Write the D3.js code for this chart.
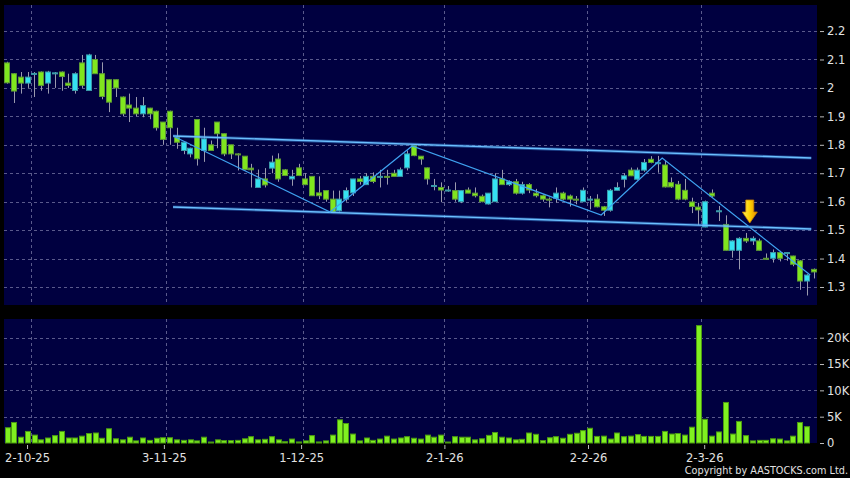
<!DOCTYPE html>
<html><head><meta charset="utf-8">
<script src="https://cdn.jsdelivr.net/npm/d3@7"></script>
<style>html,body{margin:0;padding:0;background:#000;}svg{display:block;}</style>
</head><body><svg id="c" width="850" height="478"></svg>
<script>
// ---- data (candle index 0..119) ----
const openP = [2.088,2.05,2.038,2.017,2.049,2.056,2.017,2.05,2.056,2.017,1.991,2.088,1.991,2.1,2.05,2.029,2.029,1.968,1.94,1.929,
1.909,1.929,1.918,1.88,1.918,1.827,1.78,1.768,1.889,1.78,1.8,1.88,1.839,1.8,1.768,1.76,1.718,1.65,1.68,1.718,
1.75,1.712,1.68,1.719,1.68,1.689,1.631,1.639,1.609,1.568,1.609,1.631,1.68,1.66,1.689,1.689,1.689,1.7,1.689,1.719,
1.797,1.76,1.719,1.657,1.65,1.641,1.639,1.6,1.641,1.63,1.619,1.592,1.6,1.68,1.66,1.67,1.63,1.66,1.63,1.621,
1.609,1.612,1.63,1.62,1.609,1.6,1.609,1.609,1.582,1.57,1.64,1.679,1.711,1.679,1.711,1.749,1.737,1.729,1.667,1.661,
1.64,1.599,1.581,1.511,1.63,1.568,1.52,1.429,1.429,1.471,1.462,1.462,1.401,1.401,1.421,1.421,1.409,1.392,1.321,1.362];
const highP = [2.092,2.052,2.056,2.056,2.056,2.058,2.06,2.056,2.058,2.05,2.055,2.116,2.12,2.116,2.09,2.03,2.03,1.97,1.98,1.968,
1.968,1.93,1.92,1.88,1.92,1.86,1.81,1.79,1.89,1.86,1.815,1.88,1.84,1.8,1.77,1.76,1.733,1.713,1.718,1.762,
1.77,1.715,1.712,1.733,1.7,1.69,1.689,1.64,1.639,1.639,1.65,1.68,1.69,1.7,1.703,1.712,1.712,1.712,1.72,1.78,
1.8,1.76,1.72,1.68,1.668,1.655,1.668,1.64,1.65,1.65,1.625,1.63,1.7,1.712,1.675,1.68,1.67,1.665,1.645,1.625,
1.615,1.65,1.635,1.625,1.62,1.65,1.62,1.626,1.585,1.645,1.668,1.7,1.72,1.72,1.75,1.76,1.761,1.743,1.685,1.673,
1.68,1.614,1.596,1.604,1.643,1.585,1.552,1.465,1.475,1.49,1.478,1.47,1.418,1.432,1.427,1.421,1.41,1.395,1.345,1.365];
const lowP = [2.015,1.947,1.98,2.0,1.968,1.99,1.98,2.0,1.99,2.0,1.98,2.0,1.99,2.05,1.96,1.915,1.968,1.9,1.88,1.9,
1.897,1.89,1.85,1.8,1.8,1.786,1.767,1.756,1.727,1.74,1.78,1.788,1.76,1.75,1.71,1.71,1.65,1.65,1.65,1.7,
1.67,1.69,1.656,1.69,1.658,1.62,1.609,1.6,1.56,1.565,1.6,1.62,1.66,1.66,1.665,1.65,1.66,1.689,1.689,1.71,
1.76,1.73,1.66,1.64,1.598,1.635,1.6,1.595,1.63,1.615,1.598,1.59,1.6,1.66,1.655,1.625,1.625,1.63,1.615,1.6,
1.58,1.597,1.605,1.583,1.591,1.6,1.573,1.58,1.55,1.565,1.64,1.65,1.69,1.675,1.705,1.735,1.702,1.65,1.648,1.605,
1.605,1.56,1.518,1.51,1.615,1.532,1.428,1.403,1.362,1.455,1.448,1.428,1.398,1.386,1.39,1.392,1.373,1.29,1.27,1.33];
const closeP = [2.018,1.989,2.017,2.038,2.051,2.009,2.056,2.053,2.04,2.009,2.05,2.009,2.116,2.05,1.97,1.95,2.0,1.909,1.929,1.909,
1.938,1.909,1.86,1.819,1.86,1.809,1.809,1.788,1.751,1.821,1.78,1.839,1.768,1.768,1.766,1.713,1.712,1.68,1.659,1.739,
1.68,1.692,1.689,1.692,1.66,1.621,1.621,1.609,1.562,1.609,1.639,1.68,1.671,1.689,1.671,1.689,1.687,1.689,1.712,1.768,
1.762,1.75,1.68,1.657,1.641,1.641,1.609,1.639,1.63,1.621,1.6,1.63,1.68,1.66,1.67,1.63,1.66,1.641,1.621,1.609,
1.607,1.63,1.609,1.609,1.608,1.64,1.609,1.582,1.57,1.64,1.65,1.691,1.691,1.711,1.738,1.738,1.737,1.652,1.652,1.609,
1.609,1.583,1.571,1.6,1.62,1.568,1.429,1.462,1.471,1.462,1.471,1.429,1.4,1.421,1.401,1.421,1.38,1.321,1.342,1.353];
const volumeK = [2.9,3.9,1.1,2.2,1.5,0.6,0.95,1.4,2.2,0.95,0.95,1.3,1.8,1.9,0.9,2.7,0.8,0.6,1.1,0.4,
0.95,0.5,0.9,1.0,1.0,0.6,0.5,0.6,0.4,1.1,0.1,0.6,0.45,0.45,0.5,0.8,1.2,0.6,0.7,1.2,
0.6,0.25,0.75,0.2,0.4,1.4,0.2,0.4,1.5,4.4,3.7,1.7,0.4,0.95,0.5,0.75,1.3,0.75,0.95,1.2,
0.9,0.75,1.5,1.1,1.5,0.1,1.2,1.1,1.1,0.6,0.8,1.45,2.0,1.1,0.95,0.6,0.7,1.9,1.65,0.45,
1.0,1.2,0.9,1.65,1.85,2.35,2.8,1.25,1.3,0.75,1.9,1.2,1.3,1.6,1.25,1.25,1.25,2.2,1.7,1.8,
1.5,3.0,22.3,4.5,1.3,2.1,7.7,1.7,4.1,1.4,0.4,0.5,0.5,0.8,0.75,0.4,1.3,3.9,3.1,0];
const dateLabels = ["2-10-25","3-11-25","1-12-25","2-1-26","2-2-26","2-3-26"];
const dateTickIndex = [2.9,23.1,43.35,64.5,85.7,102.85];
const dateGridIndex = [3.5,23.4,43.6,64.5,85.6,102.4];
const priceTicks = [1.3,1.4,1.5,1.6,1.7,1.8,1.9,2.0,2.1,2.2];
const volumeTicks = [0,5,10,15,20];
const upperChannel = [[24.45,1.831],[118.65,1.7536]];
const lowerChannel = [[24.45,1.5813],[118.65,1.504]];
const zigzag = [[24.75,1.8274],[47.63,1.5637],[59.74,1.7958],[87.64,1.5532],[96.65,1.7536],[118.5,1.342]];
const arrowPoint = [109.58,1.525];

// ---- drawing ----
const svg = d3.select("#c");
const N = openP.length;
const x = d3.scaleLinear().domain([-0.5, N - 0.5]).range([4, 817]);
const yP = d3.scaleLinear().domain([1.2367, 2.2916]).range([305, 5]);
const yV = d3.scaleLinear().domain([0, 23.55]).range([443, 319]);
const FONT = "DejaVu Sans, sans-serif";
const navy = "#000040";

svg.append("rect").attr("width",850).attr("height",478).attr("fill","#000");
svg.append("rect").attr("x",4).attr("y",5).attr("width",813).attr("height",300).attr("fill",navy);
svg.append("rect").attr("x",4).attr("y",319).attr("width",813).attr("height",124).attr("fill",navy);

const gridCol = "#5a5a8c";
// price grid
svg.append("g").selectAll("line").data(priceTicks).join("line")
  .attr("x1",4).attr("x2",817)
  .attr("y1",d=>Math.round(yP(d))+0.5).attr("y2",d=>Math.round(yP(d))+0.5)
  .attr("stroke",gridCol).attr("stroke-dasharray","3,3");
svg.append("g").selectAll("line").data(volumeTicks.filter(d=>d>0)).join("line")
  .attr("x1",4).attr("x2",817)
  .attr("y1",d=>Math.round(yV(d))+0.5).attr("y2",d=>Math.round(yV(d))+0.5)
  .attr("stroke",gridCol).attr("stroke-dasharray","3,3");
[[5,305],[319,443]].forEach(([a,b])=>{
  svg.append("g").selectAll("line").data(dateGridIndex).join("line")
    .attr("x1",d=>Math.round(x(d))+0.5).attr("x2",d=>Math.round(x(d))+0.5)
    .attr("y1",a).attr("y2",b)
    .attr("stroke",gridCol).attr("stroke-dasharray","3,3");
});

// volume bars
svg.append("g").selectAll("rect").data(volumeK.map((v,i)=>({v,i})).filter(d=>d.v>0)).join("rect")
  .attr("x",d=>Math.round(x(d.i)-2.8)+0.5)
  .attr("width",5)
  .attr("y",d=>Math.min(yV(d.v),442))
  .attr("height",d=>Math.max(1,443-yV(d.v)))
  .attr("fill","#80f020").attr("stroke","#4c9a12").attr("stroke-width",1);

// candles
const cData = openP.map((o,i)=>({i,o,h:highP[i],l:lowP[i],c:closeP[i]}));
const cg = svg.append("g");
cg.selectAll("line").data(cData).join("line")
  .attr("x1",d=>Math.round(x(d.i))+0.5).attr("x2",d=>Math.round(x(d.i))+0.5)
  .attr("y1",d=>yP(d.h)).attr("y2",d=>yP(d.l))
  .attr("stroke","#9a9aae").attr("stroke-width",1);
cg.selectAll("rect").data(cData).join("rect")
  .attr("x",d=>Math.round(x(d.i)-3)+0.5)
  .attr("width",5)
  .attr("y",d=>yP(Math.max(d.o,d.c)))
  .attr("height",d=>Math.max(1,Math.abs(yP(d.o)-yP(d.c))))
  .attr("fill",d=>d.c>=d.o?"#35e2f2":"#80e61e")
  .attr("stroke",d=>d.c>=d.o?"#3a9aa8":"#5e9a34")
  .attr("stroke-width",1);

// trend lines
const line = d3.line().x(d=>x(d[0])).y(d=>yP(d[1]));
[upperChannel, lowerChannel].forEach(pts=>{
  svg.append("path").attr("d",line(pts)).attr("fill","none")
    .attr("stroke","#3d8fe0").attr("stroke-opacity",0.45).attr("stroke-width",3.2);
  svg.append("path").attr("d",line(pts)).attr("fill","none")
    .attr("stroke","#6cc0ff").attr("stroke-width",1.4);
});
svg.append("path").attr("d",line(zigzag)).attr("fill","none")
  .attr("stroke","#3fa2f0").attr("stroke-width",1.2);

// arrow
const defs = svg.append("defs");
const grad = defs.append("linearGradient").attr("id","ag").attr("x1","0").attr("x2","1").attr("y1","0").attr("y2","0");
grad.append("stop").attr("offset","0").attr("stop-color","#fff25a");
grad.append("stop").attr("offset","0.5").attr("stop-color","#ffd000");
grad.append("stop").attr("offset","1").attr("stop-color","#e08a00");
svg.append("path")
  .attr("transform",`translate(${x(arrowPoint[0])},${yP(arrowPoint[1])})`)
  .attr("d","M0,0 L-7.5,-11 L-4,-11 L-4,-23 L4,-23 L4,-11 L7.5,-11 Z")
  .attr("fill","url(#ag)").attr("stroke","#c88000").attr("stroke-width",0.8);

// axes
const txtCol = "#e2e2e2";
function styleAxis(g){
  g.select(".domain").remove();
  g.selectAll(".tick line").attr("stroke","#bbbbbb");
  g.selectAll(".tick text").attr("fill",txtCol).attr("font-family",FONT).attr("font-size",11.5);
}
svg.append("g").attr("transform","translate(820,0)")
  .call(d3.axisRight(yP).tickValues(priceTicks).tickSize(4).tickPadding(3).tickFormat(d3.format("~g")))
  .call(styleAxis);
svg.append("g").attr("transform","translate(820,0)")
  .call(d3.axisRight(yV).tickValues(volumeTicks).tickSize(4).tickPadding(3).tickFormat(d=>d===0?"0":d+"K"))
  .call(styleAxis);
svg.append("g").attr("transform","translate(0,445)")
  .call(d3.axisBottom(x).tickValues(dateTickIndex).tickSize(4).tickPadding(5).tickFormat((d,i)=>dateLabels[i]))
  .call(styleAxis);

svg.append("text").attr("x",848).attr("y",474).attr("text-anchor","end")
  .attr("fill",txtCol).attr("font-family",FONT).attr("font-size",9.7)
  .text("Copyright by AASTOCKS.com Ltd.");
</script>
</body></html>
